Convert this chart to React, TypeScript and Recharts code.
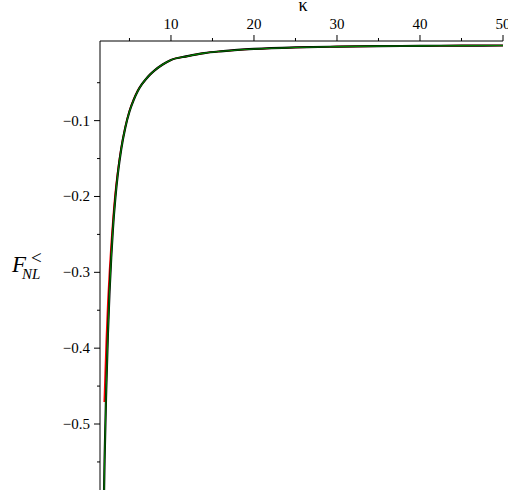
import { Line, LineChart, XAxis, YAxis } from "recharts";

// kappa grid and the three F_NL curves
const kappa = [1.92, 2, 2.2, 2.4, 2.6, 2.8, 3, 3.3, 3.6, 4, 4.5, 5, 5.5, 6, 6.5, 7, 7.5, 8, 9, 10, 12, 14, 16, 18, 20, 25, 30, 35, 40, 45, 50];
const greenF = [
  -0.6, -0.548, -0.455, -0.382, -0.325, -0.281, -0.244, -0.202, -0.17, -0.138, -0.109, -0.088, -0.073, -0.061,
  -0.052, -0.045, -0.039, -0.034, -0.026, -0.02, -0.015, -0.011, -0.0086, -0.0068, -0.0055, -0.0035, -0.0024,
  -0.0018, -0.0014, -0.0011, -0.0009,
];
const blackF = greenF;

const redKappa = [1.96, 2, 2.2, 2.4, 2.6, 2.8, 3, 3.3, 3.6, 4, 4.5, 5, 5.5, 6, 6.5, 7, 7.5, 8, 9, 10, 12, 14, 16, 18, 20, 25, 30, 35, 40, 45, 50];
const redF = [
  -0.471, -0.458, -0.392, -0.338, -0.297, -0.262, -0.232, -0.194, -0.166, -0.136, -0.108, -0.087, -0.072, -0.06,
  -0.052, -0.045, -0.039, -0.034, -0.026, -0.02, -0.015, -0.011, -0.0086, -0.0068, -0.0055, -0.0035, -0.0024,
  -0.0018, -0.0014, -0.0011, -0.0009,
];

const xTicks = [5, 10, 15, 20, 25, 30, 35, 40, 45, 50];
const yTicks = [-0.55, -0.5, -0.45, -0.4, -0.35, -0.3, -0.25, -0.2, -0.15, -0.1, -0.05];

const W = 508;
const H = 493;
const PLOT_TOP = 41;
const PLOT_LEFT = 100;
const FONT = "'Liberation Serif', 'Times New Roman', serif";

const green = kappa.map((k, i) => ({ k, f: greenF[i] }));
const black = kappa.map((k, i) => ({ k, f: blackF[i] }));
const red = redKappa.map((k, i) => ({ k, f: redF[i] }));

const isMajorX = (v: number) => Math.abs(v % 10) < 1e-9;
const isMajorY = (v: number) => Math.abs(Math.round(v * 10) - v * 10) < 1e-9;

function XTick(props: any) {
  const { x, payload } = props;
  const major = isMajorX(payload.value);
  return (
    <g>
      <line x1={x} x2={x} y1={PLOT_TOP} y2={PLOT_TOP - (major ? 6 : 3)} stroke="#000" strokeWidth={1} />
      {major && (
        <text x={x} y={29} textAnchor="middle" fontFamily={FONT} fontSize={15} fill="#000">
          {payload.value}
        </text>
      )}
    </g>
  );
}

function YTick(props: any) {
  const { y, payload } = props;
  const major = isMajorY(payload.value);
  const label = `\u2212${Math.abs(payload.value).toFixed(1)}`;
  return (
    <g>
      <line x1={PLOT_LEFT} x2={PLOT_LEFT - (major ? 6 : 3)} y1={y} y2={y} stroke="#000" strokeWidth={1} />
      {major && (
        <text x={90} y={y + 5} textAnchor="end" fontFamily={FONT} fontSize={15} fill="#000">
          {label}
        </text>
      )}
    </g>
  );
}

export default function App() {
  return (
    <div style={{ position: "absolute", left: 0, top: 0, width: W, height: H, background: "#fff" }}>
      <LineChart width={W} height={H} margin={{ top: 11, right: 5, bottom: 3, left: 0 }}>
        <XAxis
          type="number"
          dataKey="k"
          orientation="top"
          domain={[1.45, 50]}
          ticks={xTicks}
          interval={0}
          height={30}
          allowDataOverflow
          tickLine={false}
          axisLine={{ stroke: "#000", strokeWidth: 1 }}
          tick={(p: any) => <XTick {...p} />}
        />
        <YAxis
          type="number"
          dataKey="f"
          domain={[-0.587, 0.005]}
          ticks={yTicks}
          interval={0}
          width={100}
          allowDataOverflow
          tickLine={false}
          axisLine={{ stroke: "#000", strokeWidth: 1 }}
          tick={(p: any) => <YTick {...p} />}
        />
        <Line data={red} dataKey="f" type="monotone" stroke="#ff0000" strokeWidth={1.6} dot={false} isAnimationActive={false} />
        <Line data={black} dataKey="f" type="monotone" stroke="#000000" strokeWidth={2.2} dot={false} isAnimationActive={false} />
        <Line data={green} dataKey="f" type="monotone" stroke="#008000" strokeWidth={1.1} dot={false} isAnimationActive={false} />
        <text x={303} y={11} textAnchor="middle" fontFamily={FONT} fontSize={18} fill="#000">
          κ
        </text>
        <text fontFamily={FONT} fill="#000">
          <tspan x={12} y={272} fontSize={23} fontStyle="italic">F</tspan>
          <tspan x={22} y={279} fontSize={15} fontStyle="italic">NL</tspan>
          <tspan x={31} y={264} fontSize={19}>&lt;</tspan>
        </text>
      </LineChart>
    </div>
  );
}
